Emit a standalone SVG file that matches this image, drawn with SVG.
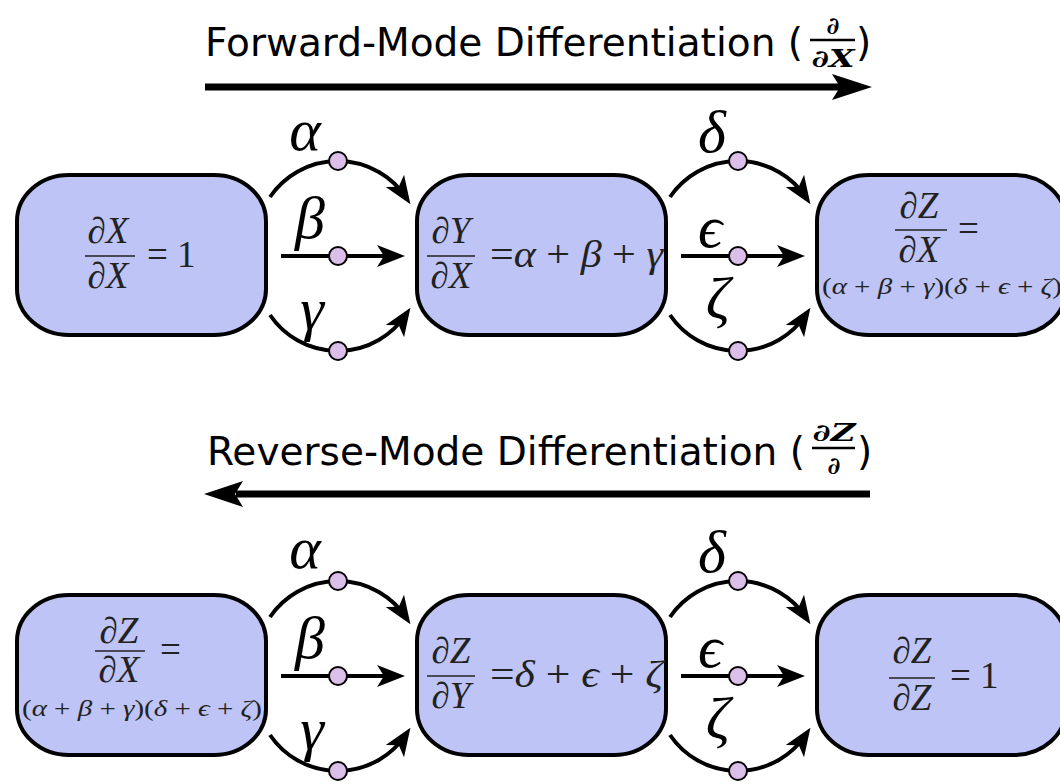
<svg xmlns="http://www.w3.org/2000/svg" width="1060" height="784" viewBox="0 0 1060 784">
<style>
.box{fill:#bec4f5;stroke:#000;stroke-width:4}
.t{font-family:"DejaVu Sans","Liberation Sans",sans-serif;font-size:39px;fill:#000}
.tf{font-family:"DejaVu Serif","Liberation Serif",serif;font-style:italic;font-weight:bold;font-size:24px;fill:#000}
.m{font-family:"Liberation Serif","DejaVu Serif",serif;font-style:italic;font-size:37px;fill:#222}
.s{font-family:"Liberation Serif","DejaVu Serif",serif;font-style:italic;font-size:24px;fill:#222}
.u{font-style:normal}
.g{font-family:"Liberation Serif","DejaVu Serif",serif;font-style:italic;font-size:60px;fill:#000}
.bar{stroke:#222;stroke-width:1.6}
.tbar{stroke:#000;stroke-width:2.4}
.c{fill:none;stroke:#000;stroke-width:4;marker-end:url(#ah)}
.dot{fill:#dcbeeb;stroke:#000;stroke-width:2}
.big{stroke:#000;stroke-width:7}
</style>
<defs>
<marker id="ah" viewBox="-22 -12 32 24" refX="0" refY="0" markerWidth="32" markerHeight="24" markerUnits="userSpaceOnUse" orient="auto">
<path d="M8,0 L-20,-11 L-13,0 L-20,11 Z" fill="#000"/>
</marker>
</defs>

<g id="title-forward">
<text class="t" x="205" y="56" textLength="598" lengthAdjust="spacingAndGlyphs">Forward-Mode Differentiation (</text>
<text class="tf" x="833" y="34" text-anchor="middle">∂</text>
<line class="tbar" x1="810" y1="40" x2="855" y2="40"/>
<text class="tf" x="833" y="67" text-anchor="middle" textLength="43" lengthAdjust="spacingAndGlyphs">∂X</text>
<text class="t" x="856" y="56">)</text>
<line class="big" x1="205" y1="87" x2="840" y2="87"/>
<path d="M872,87 L832,74 L840,87 L832,100 Z"/>
</g>

<g id="title-reverse">
<text class="t" x="207" y="465" textLength="598" lengthAdjust="spacingAndGlyphs">Reverse-Mode Differentiation (</text>
<text class="tf" x="834" y="441" text-anchor="middle" textLength="43" lengthAdjust="spacingAndGlyphs">∂Z</text>
<line class="tbar" x1="812" y1="448" x2="855" y2="448"/>
<text class="tf" x="834" y="474" text-anchor="middle">∂</text>
<text class="t" x="857" y="465">)</text>
<line class="big" x1="236" y1="494" x2="870" y2="494"/>
<path d="M204,494 L243,481 L235,494 L243,507 Z"/>
</g>

<g id="f-node1">
<rect class="box" x="17" y="175" width="249" height="160" rx="52" ry="46"/>
<text class="m" x="108" y="243" text-anchor="middle">∂X</text>
<line class="bar" x1="85" y1="256" x2="135" y2="256"/>
<text class="m" x="108" y="288" text-anchor="middle">∂X</text>
<text class="m u" x="147" y="267">= 1</text>
</g>
<g id="f-node2">
<rect class="box" x="417" y="175" width="249" height="160" rx="52" ry="46"/>
<text class="m" x="451" y="243" text-anchor="middle">∂Y</text>
<line class="bar" x1="427" y1="256" x2="475" y2="256"/>
<text class="m" x="451" y="288" text-anchor="middle">∂X</text>
<text class="m" x="490" y="267" textLength="173" lengthAdjust="spacingAndGlyphs"><tspan class="u">=</tspan>α <tspan class="u">+</tspan> β <tspan class="u">+</tspan> γ</text>
</g>
<g id="f-node3">
<rect class="box" x="817" y="175" width="249" height="160" rx="52" ry="46"/>
<text class="m" x="919" y="218" text-anchor="middle">∂Z</text>
<line class="bar" x1="895" y1="230" x2="947" y2="230"/>
<text class="m" x="919" y="262" text-anchor="middle">∂X</text>
<text class="m u" x="958" y="241">=</text>
<text class="s" x="822" y="294" textLength="240" lengthAdjust="spacingAndGlyphs"><tspan class="u">(</tspan>α <tspan class="u">+</tspan> β <tspan class="u">+</tspan> γ<tspan class="u">)(</tspan>δ <tspan class="u">+</tspan> ϵ <tspan class="u">+</tspan> ζ<tspan class="u">)</tspan></text>
</g>

<g id="r-node1">
<rect class="box" x="17" y="595" width="249" height="160" rx="52" ry="46"/>
<text class="m" x="119" y="643" text-anchor="middle">∂Z</text>
<line class="bar" x1="95" y1="651" x2="145" y2="651"/>
<text class="m" x="119" y="682" text-anchor="middle">∂X</text>
<text class="m u" x="160" y="662">=</text>
<text class="s" x="22" y="716" textLength="240" lengthAdjust="spacingAndGlyphs"><tspan class="u">(</tspan>α <tspan class="u">+</tspan> β <tspan class="u">+</tspan> γ<tspan class="u">)(</tspan>δ <tspan class="u">+</tspan> ϵ <tspan class="u">+</tspan> ζ<tspan class="u">)</tspan></text>
</g>
<g id="r-node2">
<rect class="box" x="417" y="595" width="249" height="160" rx="52" ry="46"/>
<text class="m" x="451" y="663" text-anchor="middle">∂Z</text>
<line class="bar" x1="427" y1="676" x2="475" y2="676"/>
<text class="m" x="451" y="708" text-anchor="middle">∂Y</text>
<text class="m" x="490" y="687" textLength="173" lengthAdjust="spacingAndGlyphs"><tspan class="u">=</tspan>δ <tspan class="u">+</tspan> ϵ <tspan class="u">+</tspan> ζ</text>
</g>
<g id="r-node3">
<rect class="box" x="817" y="595" width="249" height="160" rx="52" ry="46"/>
<text class="m" x="912" y="663" text-anchor="middle">∂Z</text>
<line class="bar" x1="889" y1="678" x2="935" y2="678"/>
<text class="m" x="912" y="710" text-anchor="middle">∂Z</text>
<text class="m u" x="950" y="688">= 1</text>
</g>

<g id="connectors">
<path class="c" d="M270,197 A82,82 0 0 1 406,197.5"/>
<path class="c" d="M281,256 L397,256"/>
<path class="c" d="M270,315 A82,82 0 0 0 406,314.5"/>
<path class="c" d="M670,197 A82,82 0 0 1 806,197.5"/>
<path class="c" d="M681,256 L797,256"/>
<path class="c" d="M670,315 A82,82 0 0 0 806,314.5"/>
<path class="c" d="M270,617 A82,82 0 0 1 406,617.5"/>
<path class="c" d="M281,676 L397,676"/>
<path class="c" d="M270,735 A82,82 0 0 0 406,734.5"/>
<path class="c" d="M670,617 A82,82 0 0 1 806,617.5"/>
<path class="c" d="M681,676 L797,676"/>
<path class="c" d="M670,735 A82,82 0 0 0 806,734.5"/>
<circle class="dot" cx="338" cy="161" r="9"/>
<circle class="dot" cx="338" cy="256" r="9"/>
<circle class="dot" cx="338" cy="351" r="9"/>
<circle class="dot" cx="738" cy="161" r="9"/>
<circle class="dot" cx="738" cy="256" r="9"/>
<circle class="dot" cx="738" cy="351" r="9"/>
<circle class="dot" cx="338" cy="581" r="9"/>
<circle class="dot" cx="338" cy="676" r="9"/>
<circle class="dot" cx="338" cy="771" r="9"/>
<circle class="dot" cx="738" cy="581" r="9"/>
<circle class="dot" cx="738" cy="676" r="9"/>
<circle class="dot" cx="738" cy="771" r="9"/>
<text class="g" x="305" y="150" text-anchor="middle">α</text>
<text class="g" x="310" y="238" text-anchor="middle">β</text>
<text class="g" x="312" y="329" text-anchor="middle">γ</text>
<text class="g" x="712" y="152" text-anchor="middle">δ</text>
<text class="g" x="710" y="247" text-anchor="middle">ϵ</text>
<text class="g" x="718" y="318" text-anchor="middle">ζ</text>
<text class="g" x="305" y="568" text-anchor="middle">α</text>
<text class="g" x="310" y="658" text-anchor="middle">β</text>
<text class="g" x="312" y="749" text-anchor="middle">γ</text>
<text class="g" x="712" y="572" text-anchor="middle">δ</text>
<text class="g" x="710" y="667" text-anchor="middle">ϵ</text>
<text class="g" x="718" y="738" text-anchor="middle">ζ</text>
</g>
</svg>
